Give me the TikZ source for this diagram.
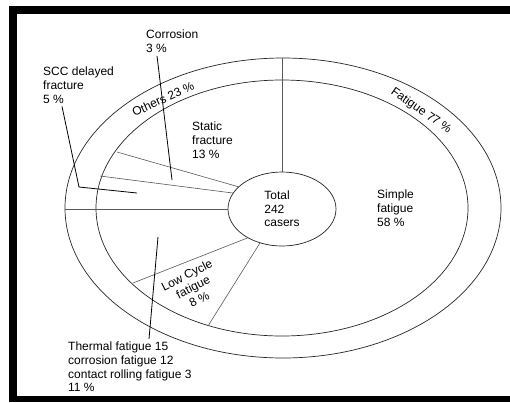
\documentclass[tikz,border=0pt]{standalone}
\usepackage{fontspec}
\setmainfont{Liberation Sans}
\usetikzlibrary{shapes.geometric}

\begin{document}
\begin{tikzpicture}[x=1pt, y=-1pt,
    lbl/.style={inner sep=0pt, align=left, font=\fontsize{12}{13.6}\selectfont},
    ring/.style={draw=black!85, line width=0.7pt},
    spoke/.style={draw=black!65, line width=0.6pt},
    leader/.style={draw=black, line width=0.8pt}]

  \useasboundingbox (0,0) rectangle (510,402);

  % -- Frame --
  \fill[black] (9,6) rectangle (510,402);
  \fill[white] (17,14) rectangle (510,396);

  % -- Outer and inner ring --
  \draw[ring] (283,208) ellipse [x radius=218pt, y radius=150pt];
  \draw[ring] (282,208) ellipse [x radius=186pt, y radius=128pt];

  % -- Centre --
  \node[ellipse, ring, minimum width=108pt, minimum height=74pt, inner sep=0pt,
        lbl] (total) at (282,209) {Total\\242\\casers};

  % -- Ends of the spokes on the rings --
  \coordinate (topEnd) at (282,58);
  \coordinate (leftEnd) at (65,209);
  \coordinate (statEnd) at (117,152);
  \coordinate (sccSpoke) at (100,176);
  \coordinate (lowA) at (133,283);
  \coordinate (lowB) at (208,326);

  % -- Spokes --
  \draw[spoke] (total.north) -- (topEnd);
  \draw[spoke] (total.west) -- (leftEnd);
  \draw[spoke] (total.153) -- (statEnd);
  \draw[spoke] (total.162) -- (sccSpoke);
  \draw[spoke] (total.220) -- (lowA);
  \draw[spoke] (total.237) -- (lowB);

  % -- Ring labels --
  \node[lbl, rotate=25] (others) at (163,99) {Others 23 \%};
  \node[lbl, rotate=-35] (fatigue) at (421,111) {Fatigue 77 \%};

  % -- Sector labels --
  \node[lbl, anchor=north west] (static) at (192,122) {Static\\fracture\\13 \%};
  \node[lbl, anchor=north west] (simple) at (377,190) {Simple\\fatigue\\58 \%};
  \node[lbl, align=center, rotate=27] (low) at (193,287) {Low Cycle\\fatigue\\8 \%};

  % -- Outside labels --
  \node[lbl, anchor=north west] (corr) at (146,30) {Corrosion\\3 \%};
  \node[lbl, anchor=north west] (scc) at (43,67) {SCC delayed\\fracture\\5 \%};
  \node[lbl, anchor=north west] (therm) at (68,342)
    {Thermal fatigue 15\\corrosion fatigue 12\\contact rolling fatigue 3\\11 \%};

  % -- Leader lines --
  \coordinate (corrEnd) at (172,180);
  \coordinate (sccBend) at (79,187);
  \coordinate (sccEnd) at (137,193);
  \coordinate (thermEnd) at (158,237);
  \draw[leader] ([xshift=11pt, yshift=-3pt]corr.south west) -- (corrEnd);
  \draw[leader] ([xshift=19pt, yshift=-3pt]scc.south west) -- (sccBend) -- (sccEnd);
  \draw[leader] ([xshift=81pt, yshift=3pt]therm.north west) -- (thermEnd);

\end{tikzpicture}
\end{document}
